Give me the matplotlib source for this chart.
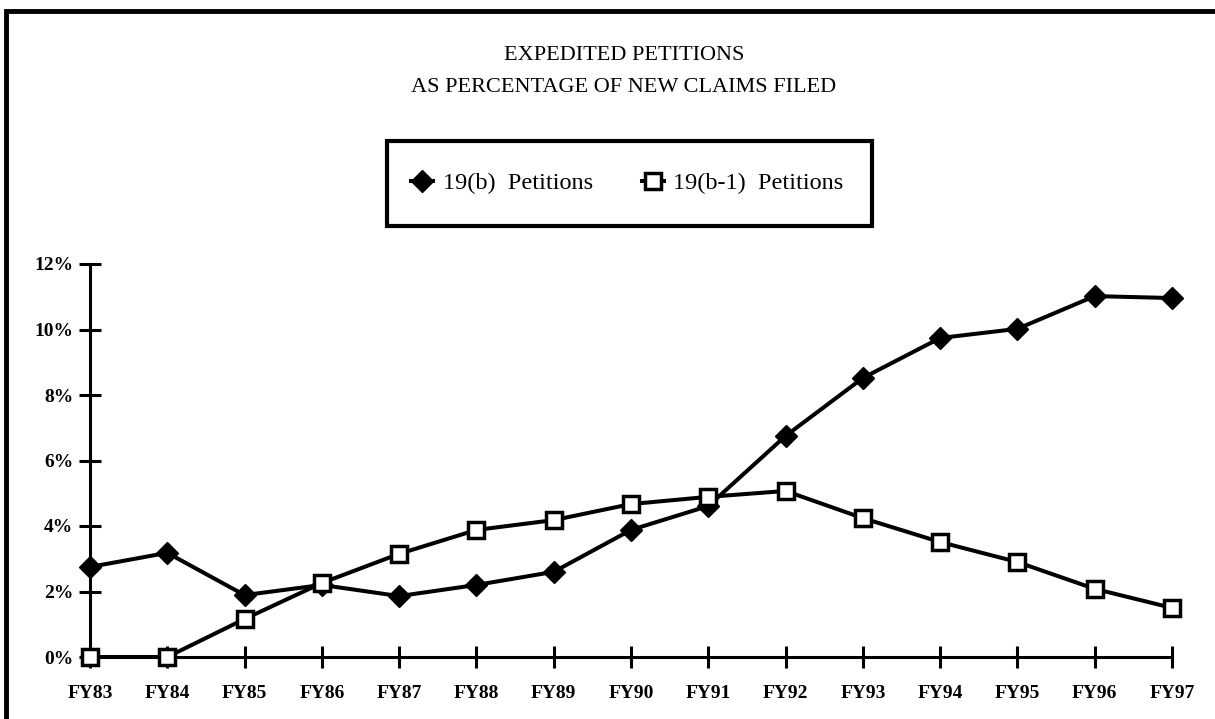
import matplotlib
matplotlib.use("Agg")
import matplotlib.pyplot as plt
from matplotlib.patches import Rectangle

years = ["FY83", "FY84", "FY85", "FY86", "FY87", "FY88", "FY89", "FY90",
         "FY91", "FY92", "FY93", "FY94", "FY95", "FY96", "FY97"]
pet_19b = [2.75, 3.18, 1.89, 2.2, 1.86, 2.2, 2.6, 3.88, 4.61, 6.75, 8.52, 9.74, 10.02, 11.02, 10.96]
pet_19b1 = [0.0, 0.0, 1.16, 2.26, 3.15, 3.88, 4.18, 4.67, 4.89, 5.07, 4.24, 3.51, 2.9, 2.08, 1.5]
yticks = [0, 2, 4, 6, 8, 10, 12]
ytick_labels = ["0%", "2%", "4%", "6%", "8%", "10%", "12%"]
title_lines = ["EXPEDITED PETITIONS", "AS PERCENTAGE OF NEW CLAIMS FILED"]
legend_labels = ["19(b)  Petitions", "19(b-1)  Petitions"]

plt.rcParams['font.family'] = ['Liberation Serif', 'DejaVu Serif']

W, H = 1215, 719
fig = plt.figure(figsize=(W / 100, H / 100), dpi=100)
fig.patch.set_facecolor('white')

# outer frame
fig.patches.append(Rectangle((5.5 / W, -0.05), 1.2, 1 - 11 / H + 0.05,
                             transform=fig.transFigure, fill=False,
                             edgecolor='black', linewidth=3.5, zorder=0))

ax = fig.add_axes([90 / W, 1 - 657 / H, (1172 - 90) / W, (657 - 264) / H])
x = list(range(len(years)))
l1, = ax.plot(x, pet_19b, color='black', linewidth=2.9, marker='D', markersize=11.5,
              markerfacecolor='black', markeredgecolor='black', clip_on=False, zorder=3)
l2, = ax.plot(x, pet_19b1, color='black', linewidth=2.9, marker='s', markersize=11,
              markerfacecolor='white', markeredgecolor='black', markeredgewidth=2.5,
              clip_on=False, zorder=4)

ax.set_xlim(0, len(years) - 1)
ax.set_ylim(0, 12)
ax.set_xticks(x)
ax.set_xticklabels(years, fontsize=14, fontweight='bold')
ax.set_yticks(yticks)
ax.set_yticklabels(ytick_labels, fontsize=14, fontweight='bold')
for s in ['top', 'right']:
    ax.spines[s].set_visible(False)
for s in ['left', 'bottom']:
    ax.spines[s].set_linewidth(2.2)
ax.tick_params(axis='both', direction='inout', length=16, width=2.2, colors='black')
ax.tick_params(axis='x', pad=12)
ax.tick_params(axis='y', pad=4)
ax.patch.set_alpha(0)

tx = 624 / W
fig.text(tx, 1 - 55 / H, title_lines[0], ha='center', va='center', fontsize=16)
fig.text(tx, 1 - 88 / H, title_lines[1], ha='center', va='center', fontsize=16)

# legend frame
lx0, lx1, ly0, ly1 = 387, 872, 141, 226
fig.patches.append(Rectangle((lx0 / W, 1 - ly1 / H), (lx1 - lx0) / W, (ly1 - ly0) / H,
                             transform=fig.transFigure, fill=False,
                             edgecolor='black', linewidth=3, zorder=1))
leg = fig.legend([l1, l2], legend_labels, loc='center',
                 bbox_to_anchor=(((lx0 + lx1) / 2 - 2) / W, 1 - ((ly0 + ly1) / 2) / H),
                 ncol=2, fontsize=17.5, frameon=False,
                 handlelength=0.9, handletextpad=0.4, columnspacing=2.0,
                 borderpad=0, borderaxespad=0, markerscale=1.0)

fig.savefig("out.png", dpi=100, facecolor='white')
